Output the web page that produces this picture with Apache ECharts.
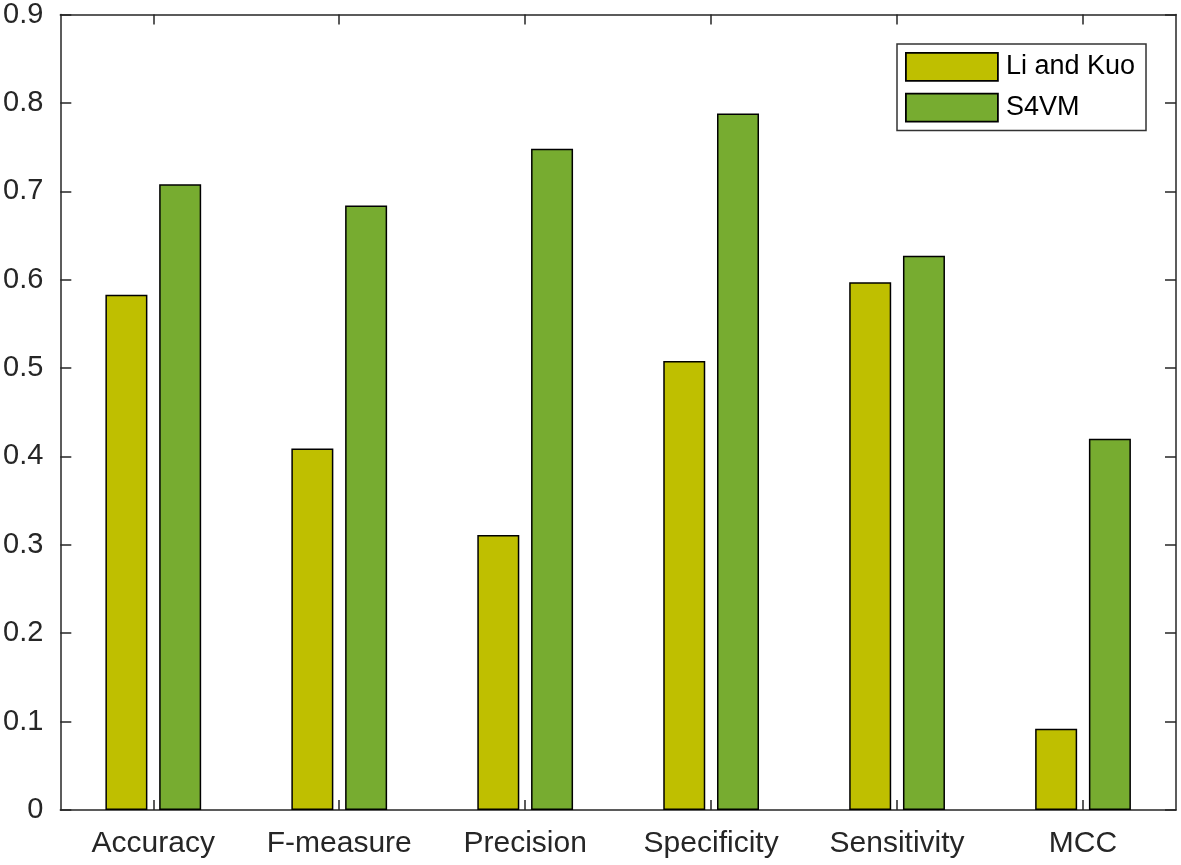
<!DOCTYPE html>
<html>
<head>
<meta charset="utf-8">
<script src="https://cdn.jsdelivr.net/npm/echarts@6/dist/echarts.min.js"></script>
<style>html,body{margin:0;padding:0;background:#fff;}#c{width:1181px;height:865px;}</style>
</head>
<body>
<div id="c"></div>
<script>
const categories = ['Accuracy', 'F-measure', 'Precision', 'Specificity', 'Sensitivity', 'MCC'];
const liAndKuo = [0.583, 0.409, 0.311, 0.508, 0.597, 0.092];
const s4vm = [0.708, 0.684, 0.748, 0.788, 0.627, 0.420];
const seriesNames = ['Li and Kuo', 'S4VM'];
const yTickLabels = ['0', '0.1', '0.2', '0.3', '0.4', '0.5', '0.6', '0.7', '0.8', '0.9'];

const axisColor = '#262626';
const font = 'Liberation Sans, Arial, Helvetica, sans-serif';
const chart = echarts.init(document.getElementById('c'), null, {renderer: 'canvas'});
chart.setOption({
  animation: false,
  backgroundColor: '#ffffff',
  grid: {left: 59, right: 5, top: 13, bottom: 55, containLabel: false},
  legend: {
    data: seriesNames,
    orient: 'vertical',
    left: 897, top: 44,
    padding: [8, 11, 8, 8],
    itemWidth: 92, itemHeight: 28, itemGap: 11,
    borderColor: '#333333', borderWidth: 1.5,
    backgroundColor: '#fff',
    icon: 'rect',
    itemStyle: {borderColor: '#000', borderWidth: 1.8},
    textStyle: {fontFamily: font, fontSize: 27, color: '#000', padding: [0, 0, 0, 3]}
  },
  xAxis: [{
    type: 'category', data: categories, position: 'bottom',
    axisLine: {onZero: false, lineStyle: {color: axisColor, width: 1.5}},
    axisTick: {show: true, inside: true, alignWithLabel: true, length: 10, lineStyle: {color: axisColor, width: 1.5}},
    axisLabel: {fontFamily: font, fontSize: 30, color: axisColor, margin: 19, interval: 0},
    splitLine: {show: false}
  }, {
    type: 'category', data: categories, position: 'top',
    axisLine: {onZero: false, lineStyle: {color: axisColor, width: 1.5}},
    axisTick: {show: true, inside: true, alignWithLabel: true, length: 10, lineStyle: {color: axisColor, width: 1.5}},
    axisLabel: {show: false}, splitLine: {show: false}
  }],
  yAxis: [{
    type: 'value', min: 0, max: 0.9, interval: 0.1, position: 'left',
    axisLine: {show: true, onZero: false, lineStyle: {color: axisColor, width: 1.5}},
    axisTick: {show: true, inside: true, length: 11, lineStyle: {color: axisColor, width: 1.5}},
    axisLabel: {fontFamily: font, fontSize: 29, color: axisColor, margin: 17,
      formatter: function (v) { return yTickLabels[Math.round(v * 10)]; }},
    splitLine: {show: false}
  }, {
    type: 'value', min: 0, max: 0.9, interval: 0.1, position: 'right',
    axisLine: {show: true, onZero: false, lineStyle: {color: axisColor, width: 1.5}},
    axisTick: {show: true, inside: true, length: 11, lineStyle: {color: axisColor, width: 1.5}},
    axisLabel: {show: false}, splitLine: {show: false}
  }],
  series: [{
    name: seriesNames[0], type: 'bar', data: liAndKuo, xAxisIndex: 0, yAxisIndex: 0,
    barWidth: 42, barGap: '28%',
    itemStyle: {color: '#BFBF00', borderColor: '#000', borderWidth: 1.5}
  }, {
    name: seriesNames[1], type: 'bar', data: s4vm, xAxisIndex: 0, yAxisIndex: 0,
    barWidth: 42, barGap: '28%',
    itemStyle: {color: '#77AC30', borderColor: '#000', borderWidth: 1.5}
  }]
});
</script>
</body>
</html>
